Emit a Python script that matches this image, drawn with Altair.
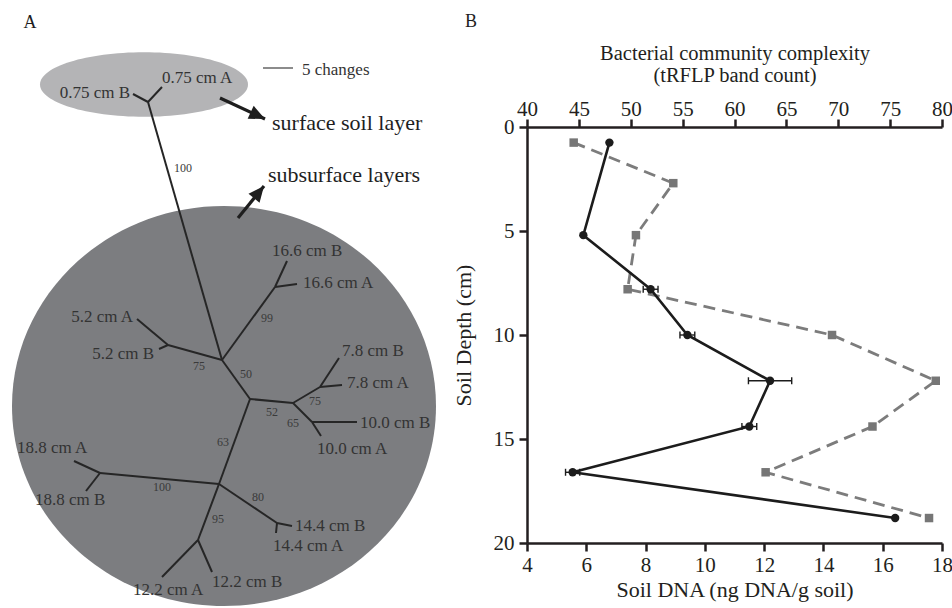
import math
import altair as alt
import pandas as pd

FONT = "Liberation Serif"
INK = "#231f20"

# ---------------- Panel B data ----------------
dna_depth = [0.75, 5.2, 7.8, 10.0, 12.2, 14.4, 16.6, 18.8]
dna_value = [6.78, 5.90, 8.17, 9.41, 12.20, 11.50, 5.54, 16.42]
dna_error = [0.0, 0.0, 0.25, 0.25, 0.73, 0.25, 0.24, 0.0]
band_depth = [0.75, 2.7, 5.2, 7.8, 10.0, 12.2, 14.4, 16.6, 18.8]
band_count = [44.5, 54.1, 50.5, 49.7, 69.4, 79.4, 73.3, 63.0, 78.75]
dna_ticks = [4, 6, 8, 10, 12, 14, 16, 18]
band_ticks = [40, 45, 50, 55, 60, 65, 70, 75, 80]
depth_ticks = [0, 5, 10, 15, 20]

# ---------------- Panel A data (diagram coordinates) ----------------
node_id = ["S", "SA", "SB", "N1", "P52", "P52A", "P52B", "P166", "P166B", "P166A",
           "N2", "N3", "P78", "P78B", "P78A", "P10", "P10B", "P10A", "N4",
           "P188", "P188A", "P188B", "P144", "P144B", "P144A", "P122", "P122A", "P122B"]
node_x = [148, 162, 133, 222, 168, 137, 159, 275, 287, 297,
          250, 293, 320, 339, 342, 312, 357, 321, 219,
          100, 74, 86, 277, 292, 276, 198, 162, 212]
node_y = [102, 87, 94, 360, 345, 319, 349, 287, 261, 284,
          399, 403, 387, 358, 385, 422, 422, 436, 484,
          473, 461, 491, 523, 526, 533, 540, 577, 572]
edge_from = ["S", "S", "S", "N1", "P52", "P52", "N1", "P166", "P166", "N1", "N2", "N3",
             "P78", "P78", "N3", "P10", "P10", "N2", "N4", "P188", "P188", "N4",
             "P144", "P144", "N4", "P122", "P122"]
edge_to = ["SA", "SB", "N1", "P52", "P52A", "P52B", "P166", "P166B", "P166A", "N2", "N3", "P78",
           "P78B", "P78A", "P10", "P10B", "P10A", "N4", "P188", "P188A", "P188B", "P144",
           "P144B", "P144A", "P122", "P122A", "P122B"]

tipL_label = ["0.75 cm A", "16.6 cm B", "16.6 cm A", "7.8 cm B", "7.8 cm A", "10.0 cm B",
              "10.0 cm A", "18.8 cm A", "18.8 cm B", "14.4 cm B", "14.4 cm A", "12.2 cm A", "12.2 cm B"]
tipL_x = [162, 272, 303, 342, 347, 360, 317, 17, 35, 295, 273, 133, 212]
tipL_y = [78, 251, 283, 351, 383, 423, 449, 448, 500, 526, 546, 590, 582]
tipR_label = ["0.75 cm B", "5.2 cm A", "5.2 cm B"]
tipR_x = [130, 133, 154]
tipR_y = [93, 317, 354]

boot_label = ["100", "75", "99", "50", "52", "75", "65", "63", "100", "80", "95"]
boot_x = [183, 199, 267, 246, 272, 315, 293, 223, 162, 258, 218]
boot_y = [168, 366, 318, 374, 412, 401, 423, 442, 487, 497, 519]

ell_x = [144, 224]
ell_y = [84.5, 406]
ell_w = [208, 424]
ell_h = [64.5, 400]
ell_color = ["#b4b4b6", "#7c7d80"]

arrow_x0 = [220, 238]
arrow_y0 = [98, 218]
arrow_x1 = [265, 264]
arrow_y1 = [119, 186]

note_label = ["surface soil layer", "subsurface layers"]
note_x = [272, 268]
note_y = [123, 175]

panel_label = ["A", "B"]
panel_x = [30, 471]
panel_y = [23, 22]

bar_x = [263, 293]
bar_y = 68
bar_text = "5 changes"
bar_text_x = 302
bar_text_y = 70

# ---------------- scales ----------------
SX = alt.Scale(domain=[527, 942], nice=False, zero=False)
SY = alt.Scale(domain=[127, 543], nice=False, zero=False, reverse=True)


def px(field):
    return alt.X(f"{field}:Q", scale=SX, axis=None)


def py(field):
    return alt.Y(f"{field}:Q", scale=SY, axis=None)


def ellipse_path(ratio):
    k = 0.5523
    r = ratio
    return (f"M 1 0 C 1 {k*r:.4f} {k:.4f} {r:.4f} 0 {r:.4f} "
            f"C {-k:.4f} {r:.4f} -1 {k*r:.4f} -1 0 "
            f"C -1 {-k*r:.4f} {-k:.4f} {-r:.4f} 0 {-r:.4f} "
            f"C {k:.4f} {-r:.4f} 1 {-k*r:.4f} 1 0 Z")


layers_a = []
for i in range(len(ell_x)):
    d = pd.DataFrame({"x": [ell_x[i]], "y": [ell_y[i]]})
    layers_a.append(
        alt.Chart(d).mark_point(shape=ellipse_path(ell_h[i] / ell_w[i]), size=ell_w[i] ** 2,
                                filled=True, opacity=1, color=ell_color[i], strokeWidth=0)
        .encode(x=px("x"), y=py("y"))
    )

pos = {n: (x, y) for n, x, y in zip(node_id, node_x, node_y)}
edges = pd.DataFrame({
    "x": [pos[a][0] for a in edge_from], "y": [pos[a][1] for a in edge_from],
    "x2": [pos[b][0] for b in edge_to], "y2": [pos[b][1] for b in edge_to],
})
layers_a.append(
    alt.Chart(edges).mark_rule(color="#262626", strokeWidth=2)
    .encode(x=px("x"), y=py("y"), x2="x2:Q", y2="y2:Q")
)

tl = pd.DataFrame({"x": tipL_x, "y": tipL_y, "t": tipL_label})
layers_a.append(
    alt.Chart(tl).mark_text(align="left", baseline="middle", font=FONT, fontSize=17, color="#333333")
    .encode(x=px("x"), y=py("y"), text="t:N")
)
tr = pd.DataFrame({"x": tipR_x, "y": tipR_y, "t": tipR_label})
layers_a.append(
    alt.Chart(tr).mark_text(align="right", baseline="middle", font=FONT, fontSize=17, color="#333333")
    .encode(x=px("x"), y=py("y"), text="t:N")
)
bl = pd.DataFrame({"x": boot_x, "y": boot_y, "t": boot_label})
layers_a.append(
    alt.Chart(bl).mark_text(align="center", baseline="middle", font=FONT, fontSize=12, color="#3a3a3a")
    .encode(x=px("x"), y=py("y"), text="t:N")
)

ar = pd.DataFrame({"x": arrow_x0, "y": arrow_y0, "x2": arrow_x1, "y2": arrow_y1})
ar["angle"] = [
    (math.degrees(math.atan2(x1 - x0, -(y1 - y0))) + 360) % 360
    for x0, y0, x1, y1 in zip(arrow_x0, arrow_y0, arrow_x1, arrow_y1)
]
layers_a.append(
    alt.Chart(ar).mark_rule(color="#1e1e1e", strokeWidth=3.2)
    .encode(x=px("x"), y=py("y"), x2="x2:Q", y2="y2:Q")
)
layers_a.append(
    alt.Chart(ar).mark_point(shape="M 0 0 L 0.45 1 L -0.45 1 Z", size=1000, filled=True,
                             opacity=1, color="#1e1e1e", strokeWidth=0)
    .encode(x=px("x2"), y=py("y2"), angle=alt.Angle("angle:Q", scale=None))
)

nt = pd.DataFrame({"x": note_x, "y": note_y, "t": note_label})
layers_a.append(
    alt.Chart(nt).mark_text(align="left", baseline="middle", font=FONT, fontSize=22, color="#1e1e1e")
    .encode(x=px("x"), y=py("y"), text="t:N")
)
pl = pd.DataFrame({"x": panel_x, "y": panel_y, "t": panel_label})
layers_a.append(
    alt.Chart(pl).mark_text(align="center", baseline="middle", font=FONT, fontSize=18, color="#1e1e1e")
    .encode(x=px("x"), y=py("y"), text="t:N")
)
sb = pd.DataFrame({"x": [bar_x[0]], "x2": [bar_x[1]], "y": [bar_y]})
layers_a.append(
    alt.Chart(sb).mark_rule(color="#666666", strokeWidth=1.5)
    .encode(x=px("x"), x2="x2:Q", y=py("y"))
)
st = pd.DataFrame({"x": [bar_text_x], "y": [bar_text_y], "t": [bar_text]})
layers_a.append(
    alt.Chart(st).mark_text(align="left", baseline="middle", font=FONT, fontSize=17, color="#333333")
    .encode(x=px("x"), y=py("y"), text="t:N")
)

tree = alt.layer(*layers_a)

# ---------------- Panel B ----------------
SD = alt.Scale(domain=[0, 20], reverse=True, nice=False, zero=False)
S_DNA = alt.Scale(domain=[4, 18], nice=False, zero=False)
S_BAND = alt.Scale(domain=[40, 80], nice=False, zero=False)

ax_bottom = alt.Axis(orient="bottom", values=dna_ticks, title="Soil DNA (ng DNA/g soil)",
                     titlePadding=4, labelPadding=3)
ax_left = alt.Axis(orient="left", values=depth_ticks, title="Soil Depth (cm)",
                   titlePadding=18, labelPadding=5)
ax_top = alt.Axis(orient="top", values=band_ticks,
                  title=["Bacterial community complexity", "(tRFLP band count)"],
                  titleLineHeight=22, titlePadding=13, labelPadding=0, titleFontSize=20.5)

dfb = pd.DataFrame({"depth": dna_depth, "dna": dna_value, "err": dna_error})
dfb["lo"] = dfb["dna"] - dfb["err"]
dfb["hi"] = dfb["dna"] + dfb["err"]
dfe = dfb[dfb["err"] > 0]
caps = pd.DataFrame({
    "depth": list(dfe["depth"]) * 2,
    "dna": list(dfe["lo"]) + list(dfe["hi"]),
})

xb = alt.X("dna:Q", scale=S_DNA, axis=ax_bottom)
yb = alt.Y("depth:Q", scale=SD, axis=ax_left)

black = alt.layer(
    alt.Chart(dfb).mark_line(color="#1c1c1c", strokeWidth=2.6)
    .encode(x=xb, y=yb, order=alt.Order("depth:Q")),
    alt.Chart(dfe).mark_rule(color="#1c1c1c", strokeWidth=1.4)
    .encode(x=alt.X("lo:Q", scale=S_DNA, axis=ax_bottom), x2="hi:Q", y=yb),
    alt.Chart(caps).mark_point(shape="M 0 -1 L 0 1", size=49, filled=False, opacity=1,
                               color="#1c1c1c", strokeWidth=1.4)
    .encode(x=xb, y=yb),
    alt.Chart(dfb).mark_circle(size=70, color="#1c1c1c", opacity=1)
    .encode(x=xb, y=yb),
)

dfg = pd.DataFrame({"depth": band_depth, "band": band_count})
xg = alt.X("band:Q", scale=S_BAND, axis=ax_top)
yg = alt.Y("depth:Q", scale=SD, axis=None)
gray = alt.layer(
    alt.Chart(dfg).mark_line(color="#7c7c7c", strokeWidth=2.8, strokeDash=[12, 7])
    .encode(x=xg, y=yg, order=alt.Order("depth:Q")),
    alt.Chart(dfg).mark_square(size=72, color="#767676", opacity=1)
    .encode(x=xg, y=yg),
)

chart = (
    alt.layer(tree, gray, black)
    .resolve_scale(x="independent", y="independent")
    .properties(width=415, height=416,
                padding={"left": 527, "top": 127, "right": 10, "bottom": 65},
                autosize=alt.AutoSizeParams(type="none"),
                background="white")
    .configure_view(stroke=None)
    .configure_axis(domainColor=INK, domainWidth=2.5, tickColor=INK, tickWidth=2.5, tickSize=8,
                    labelFont=FONT, labelFontSize=21, labelColor=INK,
                    titleFont=FONT, titleFontSize=22, titleFontWeight="normal", titleColor=INK,
                    grid=False, labelFlush=False, labelOverlap=False)
)

chart.save("out.html", embed_options={"renderer": "svg", "actions": False})
